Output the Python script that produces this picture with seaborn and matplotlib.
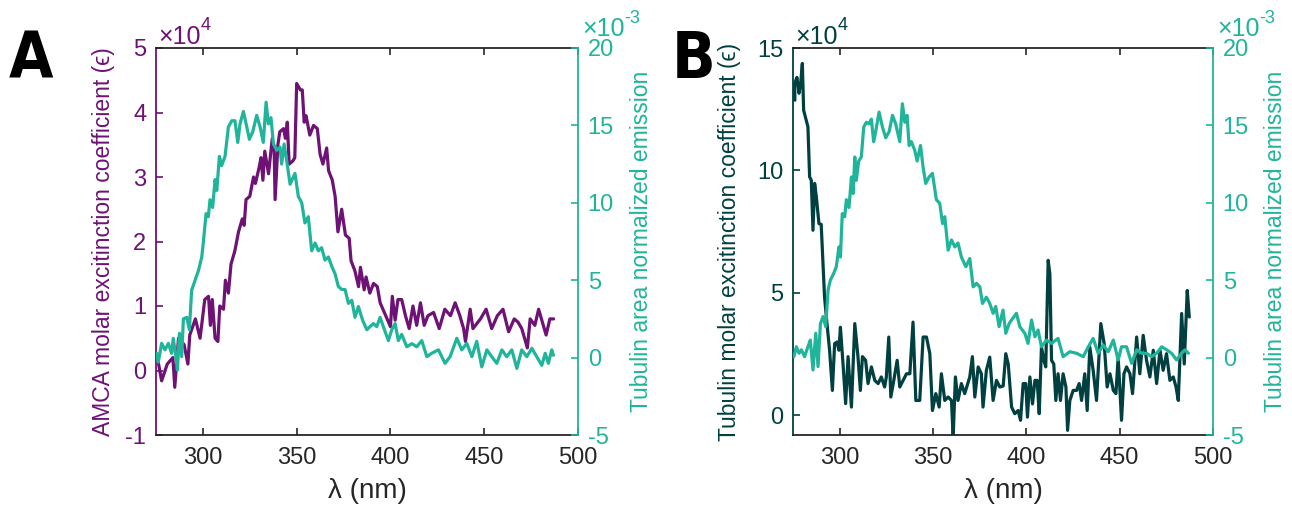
import matplotlib
matplotlib.use("Agg")
import matplotlib.pyplot as plt
import seaborn as sns

# ---------------- data ----------------
# Panel A: AMCA molar extinction coefficient (x1e4)
wl_a_amca = [276, 278, 281, 284, 285, 287, 290, 292, 293, 296, 298.5, 301, 303, 304, 305, 306.5, 308, 309, 311, 312,
             313.6, 315, 317, 319, 321, 322, 323, 325, 327, 328, 330, 331, 332, 333, 335, 337, 338, 338.5, 340, 341,
             343, 344, 345, 346, 348, 349, 350, 352, 353, 354, 355, 357, 359, 361, 362.5, 364, 366, 367, 369, 370.5,
             372, 374, 376, 378, 379, 381, 383, 384, 386, 387, 389, 391, 393, 394.5,
             400, 401, 402.5, 404, 406, 408, 410, 412, 414, 416, 418, 420, 423, 426, 429, 432, 434.5, 437, 439, 440,
             442.5, 444, 448, 451, 454, 457, 460, 463, 466, 468, 470, 473, 474.5, 477, 479, 482, 483, 485, 487]
amca_eps = [0.16, -0.16, 0.1, 0.2, -0.26, 0.5, 0.4, 0.1, 0.55, 0.8, 0.5, 1.1, 1.15, 0.7, 1.1, 0.5, 0.45, 1.0, 0.95, 1.4,
            1.2, 1.65, 1.85, 2.15, 2.35, 2.25, 2.65, 2.7, 3.0, 2.9, 3.15, 3.3, 2.95, 3.4, 3.05, 3.6, 3.4, 2.65, 3.5, 3.7,
            3.75, 3.6, 3.85, 3.2, 3.25, 3.3, 4.45, 4.35, 4.35, 3.85, 3.95, 3.65, 3.8, 3.75, 3.35, 3.2, 3.45, 3.1, 2.95, 2.7,
            2.15, 2.5, 2.1, 2.05, 1.7, 1.55, 1.3, 1.6, 1.25, 1.45, 1.2, 1.35, 1.3, 1.05,
            0.68, 1.15, 0.78, 1.1, 1.1, 0.85, 0.65, 1.0, 0.7, 1.05, 0.7, 0.85, 0.9, 0.65, 0.95, 0.85, 1.05, 0.85, 0.65, 0.45,
            0.95, 0.65, 0.8, 0.95, 0.65, 0.85, 0.95, 0.6, 0.8, 0.75, 0.65, 0.35, 0.8, 0.7, 0.95, 0.65, 0.55, 0.8, 0.8]

# Panel A: tubulin area normalized emission (x1e-3)
wl_a_emis = [275.4, 276.2, 278.0, 279.8, 281.6, 283.3, 284.2, 285.6, 286.4, 287.5, 288.7, 289.6, 291.4, 292.8, 294.0,
             295.3, 296.4, 297.6, 299.4, 300.2, 301.7, 302.9, 303.8, 305.2, 306.5, 307.4, 308.8, 310.0, 311.8, 313.6,
             315.4, 317.1, 318.6, 319.8, 321.6, 323.4, 324.8, 326.6, 328.7, 330.5, 332.2, 333.7, 334.9, 336.3, 337.6,
             339.4, 341.1, 342.0, 343.3, 344.7, 346.5, 349.1, 350.9, 352.7, 354.4, 356.2, 358.0, 359.8, 361.6, 363.3,
             365.1, 366.9, 368.7, 370.5, 372.2, 374.0, 375.8, 377.6, 379.4, 381.1, 382.9, 385.2, 387.4, 389.1, 390.9,
             392.7, 394.5, 396.2, 398.9, 400.7, 402.5, 404.2, 406.0, 408.7, 411.4, 414.0, 416.7, 419.4, 422.0, 425.6,
             429.1, 431.8, 435.4, 438.0, 440.7, 443.4, 446.0, 448.7, 451.4, 454.0, 456.7, 459.4, 462.0, 464.7, 467.4,
             470.0, 472.7, 475.4, 478.0, 480.7, 482.5, 484.2, 486.0, 486.9]
emis_a = [0.28, -0.3, 0.92, 0.5, 0.92, 0.28, 1.24, 0.06, -0.8, 1.57, 0.06, 2.5, 2.6, 1.8, 4.36,
          4.8, 5.2, 5.6, 6.5, 7.4, 9.3, 9.1, 10.2, 9.7, 11.5, 10.8, 13.0, 12.4, 13.0, 14.9,
          15.3, 15.3, 13.9, 15.1, 15.9, 14.9, 14.1, 14.6, 15.65, 14.9, 13.9, 16.5, 15.1, 15.5, 13.8,
          13.4, 13.6, 12.5, 13.8, 12.7, 11.2, 11.9, 10.4, 10.0, 8.7, 9.1, 6.9, 7.4, 6.9, 7.1,
          6.3, 6.5, 5.9, 5.4, 4.6, 4.4, 4.4, 3.5, 3.7, 2.6, 3.3, 2.4, 1.8, 2.0, 2.2,
          2.0, 2.6, 2.0, 1.1, 1.8, 2.2, 1.1, 1.5, 0.7, 0.9, 0.7, 1.1, 0.06, 0.28, 0.5,
          -0.37, 0.06, 1.25, 0.5, 0.92, 0.06, 1.05, -0.6, 0.5, 0.06, -0.37, 0.5, 0.06, 0.5, -0.7,
          0.5, 0.06, 0.6, 0.06, -0.5, 0.28, -0.37, 0.5, 0.15]

# Panel B: tubulin molar extinction coefficient (x1e4)
wl_b_tub = [276.0, 275.9, 277.1, 278.2, 279.1, 280.0, 280.7, 282.1, 283.0, 283.9, 284.8, 285.7, 286.6, 287.5, 288.9,
            290.1, 291.1, 291.9, 293.2, 294.6, 296.1, 297.3, 298.6, 299.6, 300.4, 301.8, 303.2, 304.5, 306.3, 308.1,
            309.8, 311.1, 312.2, 313.9, 315.2, 317.0, 318.8, 320.6, 322.3, 324.1, 325.0, 326.3, 327.4, 329.0, 330.8,
            332.2, 334.0, 335.8, 337.6, 339.3, 340.8, 342.9, 344.7, 346.5, 348.3, 349.7, 351.5, 353.3, 354.5, 356.3,
            358.1, 359.9, 360.8, 362.0, 363.4, 365.2, 367.0, 369.7, 371.1, 372.4, 374.2, 375.9, 376.8, 378.6,
            380.4, 382.2, 384.0, 385.8, 387.6, 389.0, 390.3, 392.1, 393.8, 395.6, 396.9, 398.3, 399.7, 400.6, 401.9,
            403.3, 404.6, 405.8, 406.9, 408.1, 409.4, 410.4, 411.7, 412.6, 413.5, 414.7, 415.8, 417.0, 418.3, 419.7,
            421.2, 422.1, 423.3, 425.1, 426.9, 428.3, 429.6, 431.3, 432.6, 434.0, 435.8, 437.6, 439.9, 441.7, 443.3,
            444.8, 446.6, 448.0, 449.2, 451.0, 452.3, 453.7, 455.5, 456.9, 459.1, 460.8, 462.6, 464.4, 466.2, 468.0,
            469.8, 471.6, 473.3, 475.1, 476.9, 478.7, 480.2, 481.4, 483.2, 484.6, 486.2, 487.3]
tub_eps = [12.87, 13.55, 13.8, 13.15, 13.55, 14.37, 12.46, 12.05, 11.78, 9.74, 9.6, 7.56, 9.47, 8.92, 7.83,
           7.8, 6.2, 4.83, 3.75, 2.66, 1.02, 2.93, 3.0, 2.66, 3.6, 2.1, 0.48, 2.4, 0.34, 3.75,
           2.4, 1.02, 2.4, 2.25, 1.3, 1.98, 1.43, 1.3, 1.57, 1.16, 1.57, 3.2, 0.75, 1.43, 2.25,
           1.16, 1.43, 1.7, 1.7, 3.81, 0.61, 0.61, 3.2, 3.2, 2.52, 0.2, 0.89, 0.34, 1.7, 0.61,
           0.75, 0.61, -0.89, 1.57, 0.61, 1.3, 0.89, 1.57, 2.4, 0.75, 1.98, 1.7, 0.34, 1.84,
           2.38, 0.61, 1.43, 1.16, 1.2, 2.52, 2.1, 0.34, 0.07, 0.2, -0.2, 1.3, 1.3, -0.07, 1.57,
           0.47, 1.43, 1.43, 0.07, 2.79, 2.25, 1.98, 6.33, 5.78, 2.25, 2.1, 0.61, 1.7, 0.61, 1.7,
           1.16, -0.61, 0.61, 1.02, 1.02, 1.3, 0.61, 1.7, 0.2, 2.79, 1.84, 0.61, 3.75, 2.93, 1.16,
           1.7, 1.02, 0.89, 2.38, -0.2, 1.7, 1.98, 1.7, 0.89, 3.2, 1.7, 3.27, 2.25, 1.57, 2.66,
           1.3, 2.66, 1.84, 2.52, 1.43, 1.57, 1.16, 0.61, 4.16, 2.1, 5.1, 4.02]

# Panel B: tubulin area normalized emission (x1e-3)
wl_b_emis = [275.5, 276.8, 278.2, 279.5, 281.2, 283.0, 284.3, 285.7, 287.2, 288.4, 289.7, 291.1, 292.5, 293.8, 295.0,
             296.8, 298.2, 299.6, 300.4, 301.4, 302.7, 303.6, 305.0, 306.3, 307.2, 308.1, 308.9, 310.2, 311.6, 312.9,
             314.3, 315.7, 317.0, 318.2, 319.3, 321.1, 322.9, 324.7, 326.5, 328.3, 330.0, 332.2, 333.6, 334.9, 336.1,
             337.2, 338.4, 340.2, 341.5, 343.3, 344.7, 346.1, 347.9, 349.7, 351.8, 353.6, 355.1, 356.3, 358.1, 359.9,
             361.7, 363.4, 365.2, 367.6, 369.7, 371.5, 373.3, 375.1, 376.5, 378.6, 380.4, 382.2, 383.6, 385.4, 387.5,
             389.0, 390.8, 392.1, 394.7, 396.5, 399.2, 400.9, 402.8, 404.6, 406.3, 408.1, 410.8, 413.5, 417.0, 419.7,
             423.3, 426.9, 430.5, 433.2, 435.8, 438.5, 441.2, 443.9, 446.6, 449.2, 451.0, 453.7, 456.4, 459.1, 461.8,
             464.4, 467.1, 469.8, 472.5, 475.2, 477.8, 480.5, 483.2, 485.0, 486.8]
emis_b = [0.06, 0.7, 0.28, 0.5, 0.06, 0.7, 1.13, -0.8, 1.57, -0.58, 2.2, 2.65, 2.0, 4.36, 5.0,
          5.44, 5.87, 7.15, 6.5, 9.3, 9.1, 10.2, 9.7, 11.67, 10.6, 12.96, 11.45, 12.7, 12.96, 14.9,
          15.2, 15.1, 15.4, 13.95, 14.6, 15.86, 14.9, 14.2, 14.6, 15.65, 15.1, 13.95, 16.4, 15.2, 15.65,
          13.7, 13.95, 13.4, 12.7, 13.7, 12.3, 11.25, 11.67, 11.9, 10.2, 9.97, 8.66, 9.1, 6.94, 7.6,
          7.15, 7.4, 6.5, 5.87, 6.4, 4.57, 4.8, 4.57, 3.5, 3.9, 3.5, 2.86, 3.3, 2.0, 3.07,
          1.57, 2.2, 2.43, 2.86, 2.0, 1.57, 0.92, 2.43, 1.35, 1.78, 0.7, 1.13, 0.92, 1.24, 0.06,
          0.38, 0.28, 0.06, 0.7, 1.24, 0.28, 0.81, 0.38, 1.13, -0.15, 0.7, 0.7, -0.37, 0.5, 0.28,
          0.28, 0.06, 0.28, 0.7, 0.5, 0.28, -0.15, 0.28, 0.5, 0.28]

x_ticks = [300, 350, 400, 450, 500]
a_left_ticks = [-1, 0, 1, 2, 3, 4, 5]
b_left_ticks = [0, 5, 10, 15]
right_ticks = [-5, 0, 5, 10, 15, 20]

PURPLE = "#6E1276"
TEAL = "#20B59B"
DARK = "#004040"
GREY = "#262626"

sns.set_style("white")
plt.rcParams["font.family"] = ["Liberation Sans", "DejaVu Sans"]
plt.rcParams["axes.unicode_minus"] = False

fig = plt.figure(figsize=(12.92, 5.14), dpi=100)
axA = fig.add_axes([156 / 1292, 79 / 514, 422 / 1292, 387 / 514])
axB = fig.add_axes([793 / 1292, 79 / 514, 420 / 1292, 387 / 514])

TS = 17
LS = 16.5


def exponent(ax, x, y, base, sup, color):
    t = ax.text(x, y, base, transform=ax.transAxes, color=color, fontsize=18, ha="left", va="bottom")
    ax.annotate(sup, xy=(1.0, 0.6), xycoords=t, color=color, fontsize=13, ha="left", va="bottom")


def panel(ax, xl, yl, xr, yr, lcol, llabel, ylim, yticks, lx, rx):
    sns.lineplot(x=xl, y=yl, ax=ax, color=lcol, lw=2.3, estimator=None, sort=False)
    ax2 = ax.twinx()
    sns.lineplot(x=xr, y=yr, ax=ax2, color=TEAL, lw=2.3, estimator=None, sort=False)

    ax.set_xlim(275, 500)
    ax.set_xticks(x_ticks)
    ax.set_ylim(*ylim)
    ax.set_yticks(yticks)
    ax2.set_ylim(-5, 20)
    ax2.set_yticks(right_ticks)

    for s in ["top", "bottom"]:
        ax.spines[s].set_color(GREY)
        ax.spines[s].set_linewidth(1.3)
        ax2.spines[s].set_visible(False)
    ax.spines["left"].set_color(lcol)
    ax.spines["left"].set_linewidth(1.3)
    ax.spines["right"].set_visible(False)
    ax2.spines["left"].set_visible(False)
    ax2.spines["right"].set_color(TEAL)
    ax2.spines["right"].set_linewidth(1.3)

    ax.tick_params(axis="x", direction="in", bottom=True, top=True, length=5, width=1.2,
                   colors=GREY, labelsize=TS, pad=9)
    ax.tick_params(axis="y", direction="in", left=True, right=False, length=5, width=1.2,
                   colors=lcol, labelsize=TS, pad=7)
    ax2.tick_params(axis="y", direction="in", right=True, left=False, length=5, width=1.2,
                    colors=TEAL, labelsize=TS, pad=7)

    ax.set_xlabel("λ (nm)", fontsize=20, color=GREY, labelpad=6)
    ax.set_ylabel(llabel, fontsize=LS, color=lcol)
    ax.yaxis.set_label_coords(lx, 0.5)
    ax2.set_ylabel("Tubulin area normalized emission", fontsize=LS, color=TEAL)
    ax2.yaxis.set_label_coords(rx, 0.5)

    exponent(ax, 0.005, 0.998, "×10", "4", lcol)
    exponent(ax, 1.01, 1.018, "×10", "-3", TEAL)
    return ax2


panel(axA, wl_a_amca, amca_eps, wl_a_emis, emis_a, PURPLE,
      "AMCA molar excitinction coefficient (ϵ)", (-1, 5), a_left_ticks, -0.097, 1.123)
panel(axB, wl_b_tub, tub_eps, wl_b_emis, emis_b, DARK,
      "Tubulin molar excitinction coefficient (ϵ)", (-0.8, 15), b_left_ticks, -0.124, 1.121)

for lx, letter in [(31, "A"), (694, "B")]:
    fig.text(lx / 1292, 1 - 60 / 514, letter, fontsize=46, fontweight="bold", fontstretch="condensed",
             ha="center", va="center", family=["DejaVu Sans"], color="black")

fig.savefig("out.png", dpi=100)
